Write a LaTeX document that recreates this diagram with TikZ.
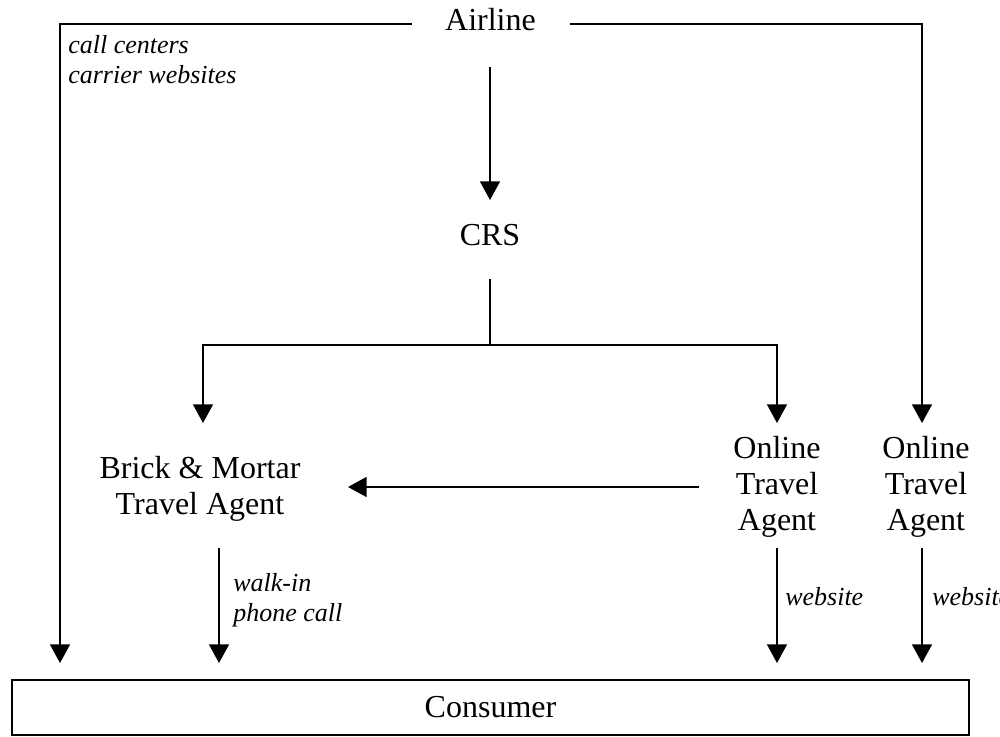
\documentclass[tikz,border=0pt]{standalone}
\usepackage{fontspec}
\setmainfont{Liberation Serif}
\usetikzlibrary{arrows.meta}
\begin{document}
\begin{tikzpicture}[x=0.75pt,y=-0.75pt,
  lbl/.style={font=\fontsize{24}{27}\selectfont, align=center, inner sep=0pt, anchor=base},
  note/.style={font=\itshape\fontsize{19.5}{22}\selectfont, align=left, inner sep=0pt, anchor=base west},
  conn/.style={line width=1.2pt},
  arr/.style={conn, -{Triangle[length=14pt,width=15pt]}}]
\useasboundingbox (0,0) rectangle (1000,736);
\clip (0,0) rectangle (1000,736);
\node[lbl] (airline) at (490.5,30) {Airline};
\node[lbl] (crs) at (490,245) {CRS};
\node[lbl] (bm) at (200,514) {Brick \& Mortar\\Travel Agent};
\node[lbl] (ota1) at (777,530) {Online\\Travel\\Agent};
\node[lbl] (ota2) at (926,530) {Online\\Travel\\Agent};
\node[draw, line width=1.2pt, minimum width=957*0.75pt, minimum height=55*0.75pt, inner sep=0pt, font=\fontsize{24}{27}\selectfont] (cons) at (490.5,707.5) {Consumer};
% free-end coordinates
\coordinate (lstart) at (412,24);
\coordinate (rstart) at (570,24);
\coordinate (ltip) at (60,663);
\coordinate (rtip) at (922,423);
\coordinate (atop) at (490,67);
\coordinate (atip) at (490,200);
\coordinate (cbot) at (490,279);
\coordinate (split) at (490,345);
\coordinate (bmtip) at (203,423);
\coordinate (otatip) at (777,423);
\coordinate (hstart) at (699,487);
\coordinate (htip) at (348,487);
\coordinate (bmd) at (219,548);
\coordinate (bmdt) at (219,663);
\coordinate (o1d) at (777,548);
\coordinate (o1dt) at (777,663);
\coordinate (o2d) at (922,548);
\coordinate (o2dt) at (922,663);
% connectors
\draw[arr] (lstart) -| (ltip);
\draw[arr] (rstart) -| (rtip);
\draw[arr] (atop) -- (atip);
\draw[conn] (cbot) -- (split);
\draw[arr] (split) -| (bmtip);
\draw[arr] (split) -| (otatip);
\draw[arr] (hstart) -- (htip);
\draw[arr] (bmd) -- (bmdt);
\draw[arr] (o1d) -- (o1dt);
\draw[arr] (o2d) -- (o2dt);
% labels
\node[note] (n1) at (68,83) {call centers\\carrier websites};
\node[note] (n2) at (233,621) {walk-in\\phone call};
\node[note] (n3) at (785,605) {website};
\node[note] (n4) at (932,605) {website};
\end{tikzpicture}
\end{document}
